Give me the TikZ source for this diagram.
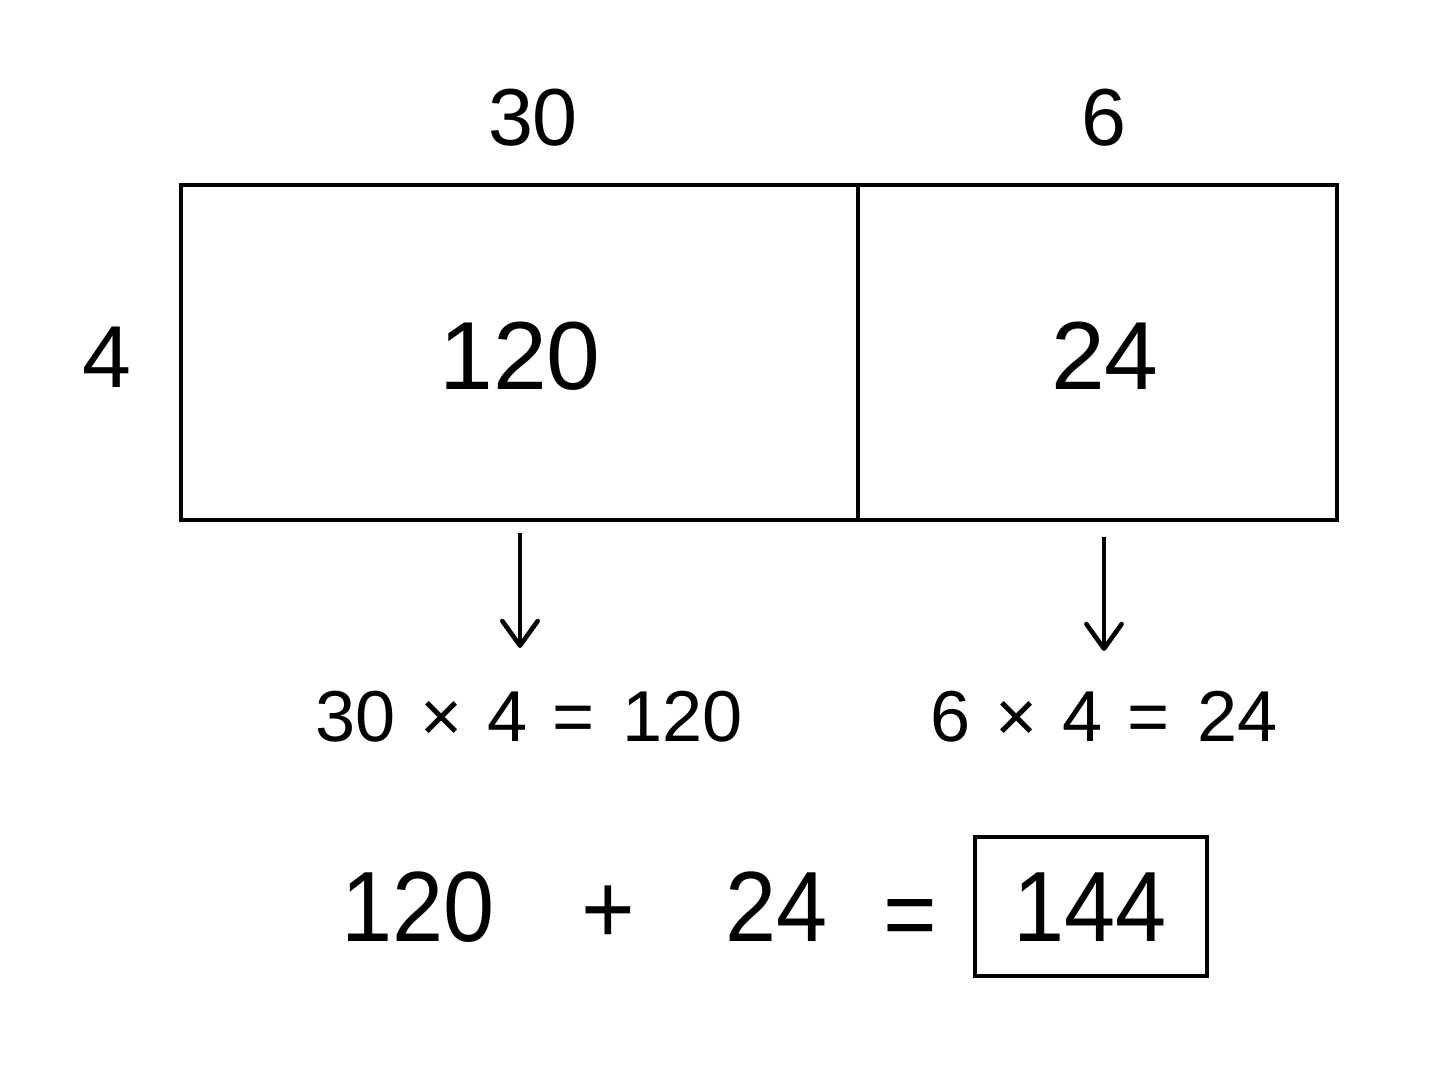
\documentclass[tikz,border=0pt]{standalone}
\usepackage{fontspec}
\setmainfont{Liberation Sans}
\usetikzlibrary{arrows.meta}
\begin{document}
\begin{tikzpicture}[x=0.01cm,y=-0.01cm,
  lbl/.style={inner sep=0pt, anchor=center},
  toplbl/.style={lbl, font=\fontsize{23}{26}\selectfont},
  sidelbl/.style={lbl, font=\fontsize{25}{28}\selectfont},
  arealbl/.style={lbl, font=\fontsize{27.5}{30}\selectfont},
  eqlbl/.style={inner sep=0pt, anchor=base, font=\fontsize{20.5}{24}\selectfont},
  sumlbl/.style={inner sep=0pt, anchor=base, font=\fontsize{28.4}{32}\selectfont, xscale=0.92},
  cell/.style={draw=black, line width=1.3pt, inner sep=0pt, minimum height=3.35cm},
  arr/.style={line width=1.1pt, -{Straight Barb[length=7pt,width=10pt,line width=1.3pt,round]}}
]
\useasboundingbox (0,0) rectangle (1448,1086);
% area model cells
\node[cell, minimum width=6.77cm] (cellA) at (519.5,352.5) {};
\node[cell, minimum width=4.79cm] (cellB) at (1097.5,352.5) {};
% dimension labels
\node[toplbl] (w30) at (533,118) {30};
\node[toplbl] (w6) at (1104,118) {6};
\node[sidelbl] (h4) at (107,357) {4};
% area labels
\node[arealbl] (a120) at (520,356) {120};
\node[arealbl] (a24) at (1105,356) {24};
% equations
\node[eqlbl] (eqA) at (529,742) {30\hspace{0.065em} × \hspace{0.065em}4\hspace{0.065em} = \hspace{0.11em}120};
\node[eqlbl] (eqB) at (1104,742) {6\hspace{0.065em} × \hspace{0.065em}4\hspace{0.065em} = \hspace{0.11em}24};
% arrows
\coordinate (sA) at (520,533);
\coordinate (eA) at (520,648);
\coordinate (sB) at (1104,537);
\coordinate (eB) at (1104,651);
\draw[arr] (sA) -- (eA);
\draw[arr] (sB) -- (eB);
% sum
\node[sumlbl] (s120) at (418,942) {120};
\node[sumlbl] (splus) at (608,944) {+};
\node[sumlbl] (s24) at (777,942) {24};
\node[sumlbl] (seq) at (910,949) {=};
\node[draw=black, line width=1.3pt, minimum width=2.32cm, minimum height=1.39cm, inner sep=0pt] (sbox) at (1091,906.5) {};
\node[sumlbl] (s144) at (1090,942) {144};
\end{tikzpicture}
\end{document}
